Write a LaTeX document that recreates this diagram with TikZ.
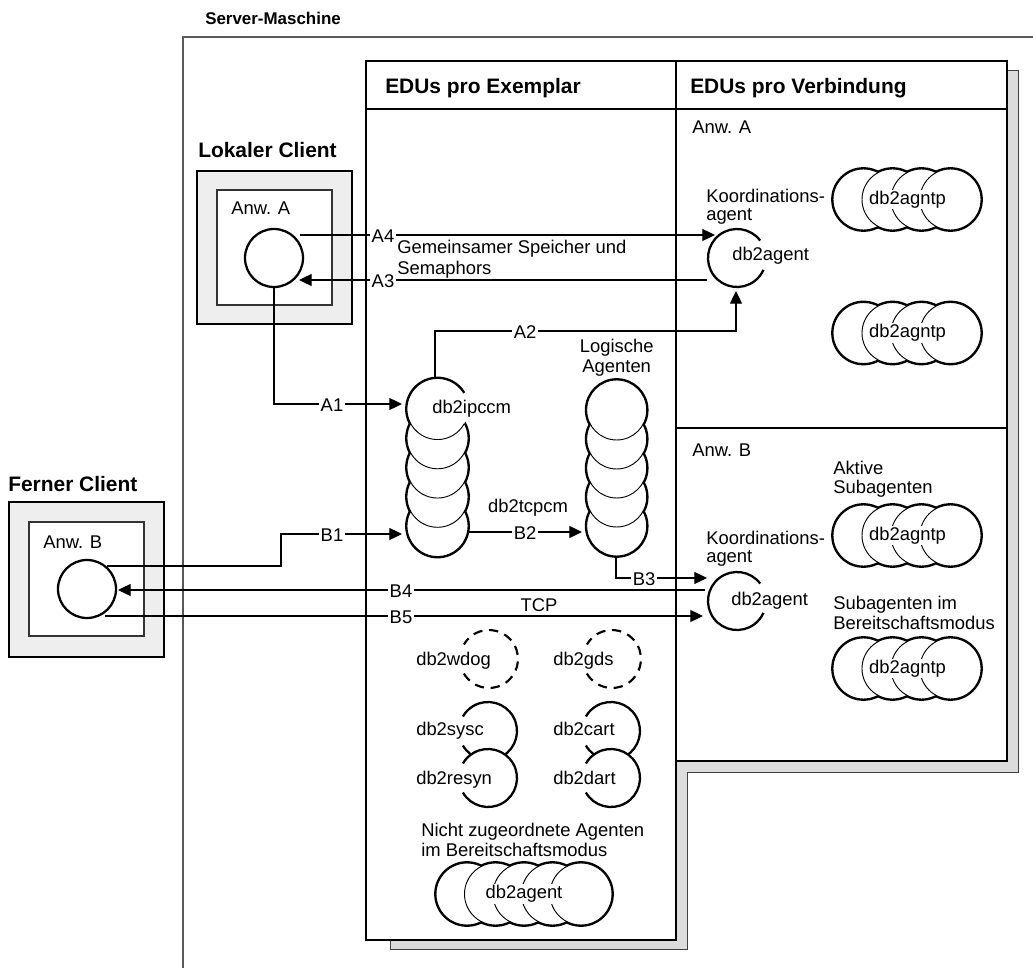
\documentclass[tikz,border=0pt]{standalone}
\usepackage{fontspec}
\setmainfont{Liberation Sans}
\usetikzlibrary{arrows.meta,calc}
\definecolor{shadowgray}{HTML}{DCDCDC}
\definecolor{clientgray}{HTML}{EEEEEE}
\newcommand\hgroup[5]{%
  \foreach \i in {0,...,#3}{\draw[line width=2.8pt] ({#1+#4*\i},{#2}) circle[radius=#5];}
  \foreach \i in {0,...,#3}{\draw[fill=white,line width=0.7pt] ({#1+#4*\i},{#2}) circle[radius=#5];}
}
\newcommand\vstackdraw[5]{%
  \foreach \i in {0,...,#3}{\draw[line width=2.8pt] ({#1},{#2-#4*\i}) circle[radius=#5];}
  \foreach \i in {#3,...,0}{\draw[fill=white,line width=0.7pt] ({#1},{#2-#4*\i}) circle[radius=#5];}
}
\begin{document}
\begin{tikzpicture}[x=0.75pt,y=0.75pt,
  txt/.style={font=\fontsize{13.8}{15}\selectfont, inner sep=0pt},
  ttl/.style={font=\fontsize{15.7}{18}\selectfont\bfseries, inner sep=0pt},
  cl/.style={font=\fontsize{13.8}{15}\selectfont, fill=white, inner sep=1.3pt},
  conn/.style={line width=0.9pt},
  arr/.style={conn, -{Triangle[length=9.5pt,width=9pt]}},
  ring/.style={line width=1.7pt},
  boxline/.style={line width=1.6pt},
  dashring/.style={line width=1.6pt, dash pattern=on 7pt off 5pt}
]
\useasboundingbox (0,0) rectangle (1033,-970);

% server machine outline
\draw[line width=0.9pt, black!65] (183,-968) -- (183,-37) -- (1033,-37);
\node[font=\fontsize{12.7}{15}\selectfont\bfseries, inner sep=0pt, anchor=base west] (srv) at (205,-25) {Server-Maschine};

% shadow and main box
\fill[shadowgray, draw=black!75, line width=0.6pt] (390,-70) -- (1018,-70) -- (1018,-772) -- (687,-772) -- (687,-949) -- (390,-949) -- cycle;
\draw[boxline, fill=white] (366,-61) -- (1007,-61) -- (1007,-761) -- (676,-761) -- (676,-940) -- (366,-940) -- cycle;
\draw[boxline] (366,-109) -- (1007,-109);
\draw[boxline] (676,-61) -- (676,-761);
\draw[boxline] (676,-428) -- (1007,-428);
\node[ttl, anchor=base west] (hex) at (385,-94) {EDUs pro Exemplar};
\node[ttl, anchor=base west] (hvb) at (690,-94) {EDUs pro Verbindung};

% local client
\node[ttl, anchor=base west] (lokT) at (198,-158) {Lokaler Client};
\node[draw, line width=1.5pt, fill=clientgray, minimum width=116.25pt, minimum height=114.75pt, inner sep=0pt] (lokO) at (274.5,-247.5) {};
\node[draw=black!80, line width=0.8pt, fill=white, minimum width=86.25pt, minimum height=86.25pt, inner sep=0pt] (lokI) at (274.5,-247.5) {};
\node[txt, anchor=base west] (anwAc) at (231,-215) {Anw. A};
\node[circle, draw, ring, fill=white, minimum size=43.5pt, inner sep=0pt] (cA) at (274,-258) {};

% remote client
\node[ttl, anchor=base west] (ferT) at (8,-491) {Ferner Client};
\node[draw, line width=1.5pt, fill=clientgray, minimum width=116.25pt, minimum height=116.25pt, inner sep=0pt] (ferO) at (86.5,-579.5) {};
\node[draw=black!80, line width=0.8pt, fill=white, minimum width=86.25pt, minimum height=85.5pt, inner sep=0pt] (ferI) at (86.5,-579) {};
\node[txt, anchor=base west] (anwBc) at (43,-548) {Anw. B};
\node[circle, draw, ring, fill=white, minimum size=43.5pt, inner sep=0pt] (cB) at (87,-589) {};

% right column labels
\node[txt, anchor=base west] (anwAr) at (692,-134) {Anw. A};
\node[txt, anchor=base west] (anwBr) at (692,-456) {Anw. B};
\node[txt, anchor=base west] (koA1) at (706,-203) {Koordinations-};
\node[txt, anchor=base west] (koA2) at (706,-221) {agent};
\node[txt, anchor=base west] (koB1) at (706,-544) {Koordinations-};
\node[txt, anchor=base west] (koB2) at (706,-562) {agent};
\node[txt, anchor=base west] (akt1) at (833,-474) {Aktive};
\node[txt, anchor=base west] (akt2) at (833,-493.5) {Subagenten};
\node[txt, anchor=base west] (bsu1) at (833,-609) {Subagenten im};
\node[txt, anchor=base west] (bsu2) at (833,-629) {Bereitschaftsmodus};

% coordinator agents
\coordinate (kA) at (737,-258);
\coordinate (kB) at (737,-601);
\foreach \c in {kA,kB}{
  \fill[white] (\c) circle[radius=21.75pt];
  \draw[ring] ($(\c)+(37:21.75pt)$) arc[start angle=37, end angle=336, radius=21.75pt];
}
\node[txt, anchor=base west] (dagA) at (732,-261) {db2agent};
\node[txt, anchor=base west] (dagB) at (731,-605) {db2agent};

% subagent groups
\hgroup{863.5}{-199.5}{3}{29}{22.875pt}
\hgroup{863.5}{-333}{3}{29}{22.875pt}
\hgroup{863.5}{-535.5}{3}{29}{22.875pt}
\hgroup{863.5}{-668.5}{3}{29}{22.875pt}
\node[txt, fill=white, inner sep=1pt] (gA1) at (907.5,-199.5) {db2agntp};
\node[txt, fill=white, inner sep=1pt] (gA2) at (907.5,-333) {db2agntp};
\node[txt, fill=white, inner sep=1pt] (gB1) at (907.5,-535.5) {db2agntp};
\node[txt, fill=white, inner sep=1pt] (gB2) at (907.5,-668.5) {db2agntp};

% db2ipccm stack
\foreach \i in {1,...,4}{\draw[line width=2.8pt] (437.5,{-409-29.25*\i}) circle[radius=22.9pt];}
\draw[line width=2.8pt] ($(437.5,-409)+(31:22.9pt)$) arc[start angle=31, end angle=331, radius=22.9pt];
\foreach \i in {4,...,1}{\draw[fill=white,line width=0.7pt] (437.5,{-409-29.25*\i}) circle[radius=22.9pt];}
\fill[white] (437.5,-409) circle[radius=22.9pt];
\draw[line width=0.7pt] ($(437.5,-409)+(31:22.9pt)$) arc[start angle=31, end angle=331, radius=22.9pt];
\node[txt, anchor=base west] (ipccm) at (432,-413) {db2ipccm};

% logical agents stack
\vstackdraw{616.7}{-410}{4}{29}{22.5pt}
\node[txt, anchor=base] (log1) at (616.7,-353) {Logische};
\node[txt, anchor=base] (log2) at (616.7,-373) {Agenten};
\node[txt, anchor=base] (tcpcm) at (528,-512.5) {db2tcpcm};

% other EDUs
\coordinate (wd) at (489,-659);
\coordinate (gd) at (612,-659);
\foreach \c in {wd,gd}{
  \draw[dashring] ($(\c)+(-150:21.75pt)$) arc[start angle=-150, end angle=150, radius=21.75pt];
}
\coordinate (sy) at (488,-731);
\coordinate (rs) at (488,-778);
\coordinate (ca) at (611,-731);
\coordinate (da) at (611,-778);
\foreach \c in {sy,rs,ca,da}{
  \fill[white] (\c) circle[radius=21.75pt];
  \draw[ring] ($(\c)+(-150:21.75pt)$) arc[start angle=-150, end angle=150, radius=21.75pt];
}
\node[txt, anchor=base west] (twd) at (416,-665.7) {db2wdog};
\node[txt, anchor=base west] (tgd) at (553,-665.7) {db2gds};
\node[txt, anchor=base west] (tsy) at (416,-735.7) {db2sysc};
\node[txt, anchor=base west] (tca) at (553,-735.7) {db2cart};
\node[txt, anchor=base west] (trs) at (416,-784) {db2resyn};
\node[txt, anchor=base west] (tda) at (553,-784) {db2dart};

% unassigned agents
\node[txt, anchor=base west] (ni1) at (421,-836.7) {Nicht zugeordnete Agenten};
\node[txt, anchor=base west] (ni2) at (421,-856) {im Bereitschaftsmodus};
\hgroup{467}{-894}{4}{28.5}{23.25pt}
\node[txt, fill=white, inner sep=1pt] (gU) at (524,-894) {db2agent};

% shared memory label
\node[txt, anchor=base west] (gem1) at (397,-254) {Gemeinsamer Speicher und};
\node[txt, anchor=base west] (gem2) at (397,-275) {Semaphors};

% connectors
\coordinate (a4s) at (300,-235); \coordinate (a4e) at (715,-235);
\coordinate (a3s) at (707,-280); \coordinate (a3e) at (299,-280);
\coordinate (a2s) at (435,-379); \coordinate (a2e) at (736,-291);
\coordinate (a1s) at (274,-287); \coordinate (a1e) at (402,-404);
\coordinate (b1s) at (107,-566); \coordinate (b1e) at (402,-534);
\coordinate (b2s) at (468,-532); \coordinate (b2e) at (582,-532);
\coordinate (b3s) at (616,-556); \coordinate (b3e) at (707,-578);
\coordinate (b4s) at (705,-590); \coordinate (b4e) at (118,-590);
\coordinate (b5s) at (105,-616); \coordinate (b5e) at (703,-616);

\draw[arr] (a4s) -- (a4e);
\draw[arr] (a3s) -- (a3e);
\draw[arr] (a2s) |- (736,-331) -- (a2e);
\draw[arr] (a1s) |- (a1e);
\draw[arr] (b1s) -- (281,-566) |- (b1e);
\draw[arr] (b2s) -- (b2e);
\draw[arr] (b3s) |- (b3e);
\draw[arr] (b4s) -- (b4e);
\draw[arr] (b5s) -- (b5e);

\node[cl] (la4) at (383,-236.5) {A4};
\node[cl] (la3) at (383,-281.5) {A3};
\node[cl] (la2) at (525,-332.5) {A2};
\node[cl] (la1) at (332,-405.5) {A1};
\node[cl] (lb1) at (332,-535.5) {B1};
\node[cl] (lb2) at (525,-533.5) {B2};
\node[cl] (lb3) at (644,-579.5) {B3};
\node[cl] (lb4) at (401,-591.5) {B4};
\node[cl] (lb5) at (401,-617.5) {B5};
\node[txt, anchor=base] (tcp) at (539,-611.5) {TCP};
\end{tikzpicture}
\end{document}
